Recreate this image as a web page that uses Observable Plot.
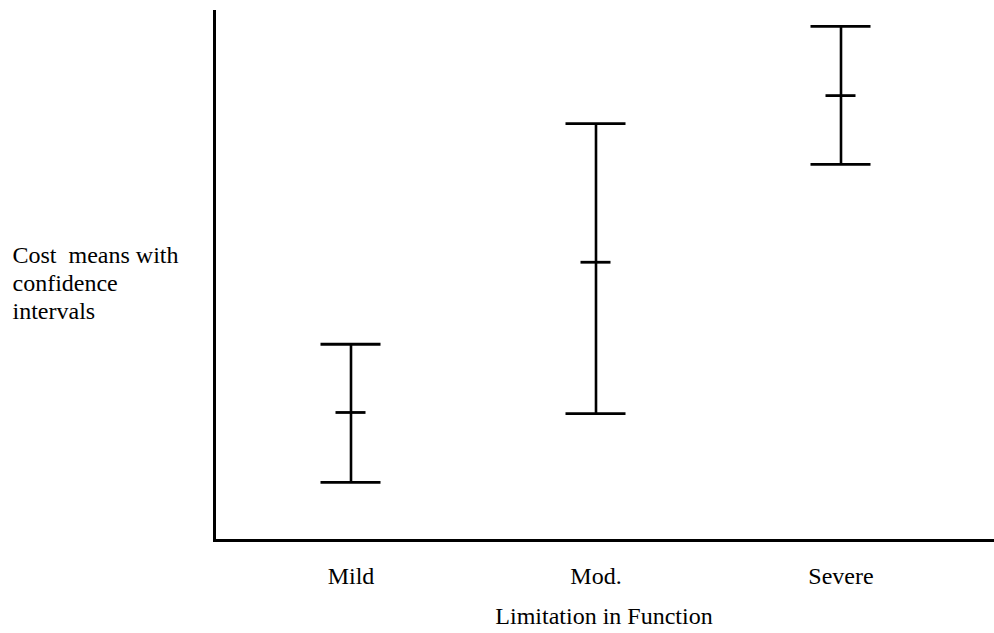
<!DOCTYPE html>
<html>
<head>
<meta charset="utf-8">
<script src="https://cdn.jsdelivr.net/npm/d3@7"></script>
<script src="https://cdn.jsdelivr.net/npm/@observablehq/plot@0.6"></script>
<style>
  html, body { margin: 0; padding: 0; background: #fff; }
  svg text, svg { white-space: pre; font-family: "Liberation Serif", "Times New Roman", serif !important; }
</style>
</head>
<body>
<div id="chart"></div>
<script>
const categories = ["Mild", "Mod.", "Severe"];
const lower = [11.0, 24.0, 71.1];
const means = [24.2, 52.6, 84.1];
const upper = [37.1, 78.8, 97.2];
const xTitle = "Limitation in Function";
const yTitle = "Cost  means with\nconfidence\nintervals";

const rows = categories.map((c, i) => ({cat: c, lo: lower[i], mean: means[i], hi: upper[i]}));
const font = "'Liberation Serif', 'Times New Roman', serif";

const chart = Plot.plot({
  width: 994,
  height: 633,
  marginLeft: 214,
  marginRight: 1,
  marginTop: 11,
  marginBottom: 93,
  style: {background: "#fff", color: "#000", fontFamily: font},
  x: {type: "band", domain: categories, range: [227.5, 962.5], padding: 0},
  y: {domain: [0, 100], axis: null},
  marks: [
    Plot.frame({anchor: "left", stroke: "#000", strokeWidth: 3}),
    Plot.frame({anchor: "bottom", stroke: "#000", strokeWidth: 3}),
    Plot.ruleX(rows, {x: "cat", y1: "lo", y2: "hi", stroke: "#000", strokeWidth: 2.6}),
    Plot.tickY(rows, {x: "cat", y: "hi", stroke: "#000", strokeWidth: 2.8, insetLeft: 92.5, insetRight: 92.5}),
    Plot.tickY(rows, {x: "cat", y: "lo", stroke: "#000", strokeWidth: 2.8, insetLeft: 92.5, insetRight: 92.5}),
    Plot.tickY(rows, {x: "cat", y: "mean", stroke: "#000", strokeWidth: 2.8, insetLeft: 107.5, insetRight: 107.5}),
    Plot.axisX({tickSize: 0, tickPadding: 26, fontSize: 24, fontFamily: font, fill: "#000", label: null}),
    Plot.text([xTitle], {frameAnchor: "bottom", dy: 83, fontSize: 24, fontFamily: font, fill: "#000"}),
    Plot.text([yTitle], {frameAnchor: "left", textAnchor: "start", dx: -202, dy: 6.5, lineHeight: 28 / 24, fontSize: 24, fontFamily: font, fill: "#000"})
  ]
});
document.getElementById("chart").appendChild(chart);
</script>
</body>
</html>
